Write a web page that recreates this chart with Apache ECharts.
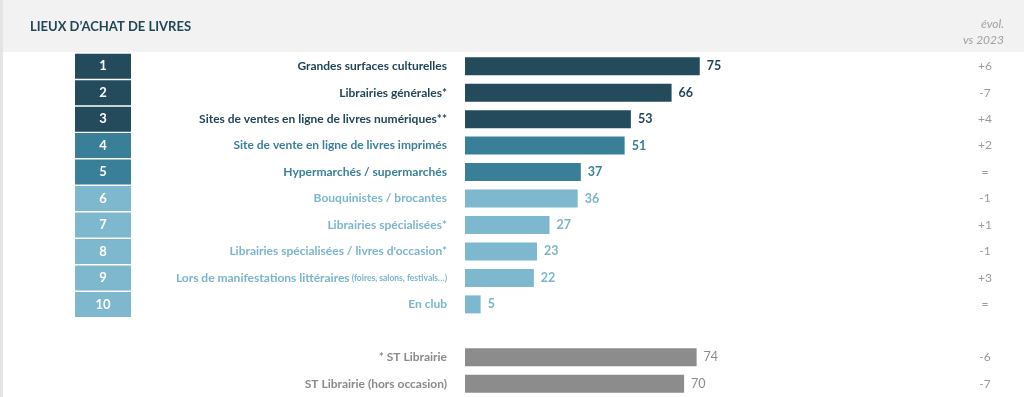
<!DOCTYPE html>
<html><head><meta charset="utf-8">
<script src="https://cdn.jsdelivr.net/npm/echarts@6/dist/echarts.min.js"></script>
<style>html,body{margin:0;padding:0;background:#fff}#c{width:1024px;height:397px}</style>
</head><body><div id="c"></div>
<script>
const categories = ['Grandes surfaces culturelles','Librairies générales*','Sites de ventes en ligne de livres numériques**','Site de vente en ligne de livres imprimés','Hypermarchés / supermarchés','Bouquinistes / brocantes','Librairies spécialisées*','Librairies spécialisées / livres d\'occasion*','Lors de manifestations littéraires','En club','','* ST Librairie','ST Librairie (hors occasion)'];
const notes = ['','','','','','','','','(foires, salons, festivals…)','','','',''];
const values = [75,66,53,51,37,36,27,23,22,5,null,74,70];
const groups = ['dark','dark','dark','mid','mid','light','light','light','light','light','','gray','gray'];
const ranks = ['1','2','3','4','5','6','7','8','9','10','','',''];
const evol = ['+6','-7','+4','+2','=','-1','+1','-1','+3','=','','-6','-7'];

const barColors = {dark:'#234b5b', mid:'#3a7f98', light:'#7db8ce', gray:'#8c8c8c'};
const textColors = {dark:'#1f4656', mid:'#3a7f98', light:'#7ab5cc', gray:'#8a8a8a'};
const FONT = 'Lato';

const chart = echarts.init(document.getElementById('c'));
const rich = {};
Object.keys(textColors).forEach(g => {
  rich[g] = {color:textColors[g], fontWeight:'bold', fontSize:12, fontFamily:FONT};
  rich[g+'s'] = {color:textColors[g], fontWeight:'bold', fontSize:8.5, fontFamily:FONT};
});
const gridTop = 53, gridH = 344;
chart.setOption({
  animation:false,
  graphic:[
    {type:'rect', shape:{x:0,y:0,width:1024,height:52}, style:{fill:'#f2f2f2'}, z:-10},
    {type:'rect', shape:{x:0,y:0,width:3,height:397}, style:{fill:'#e4e4e4'}, z:-9},
    {type:'text', x:1004, y:24, style:{text:'évol.', align:'right', verticalAlign:'middle', fill:'#a0a0a0', font:'italic 12px Lato'}},
    {type:'text', x:1004, y:40, style:{text:'vs 2023', align:'right', verticalAlign:'middle', fill:'#a0a0a0', font:'italic 12px Lato'}}
  ],
  title:[
    {text:'LIEUX D\u2019ACHAT DE LIVRES', left:30, top:20, padding:0, textStyle:{fontFamily:FONT, fontSize:13, fontWeight:'bold', color:'#1f4656'}}
  ],
  grid:[
    {left:465, top:gridTop, width:313, height:gridH},
    {left:75, top:gridTop, width:56, height:gridH}
  ],
  xAxis:[
    {gridIndex:0, type:'value', min:0, max:100, show:false},
    {gridIndex:1, type:'value', min:0, max:1, show:false}
  ],
  yAxis:[
    {gridIndex:0, type:'category', inverse:true, data:categories,
     axisLine:{show:false}, axisTick:{show:false},
     axisLabel:{margin:18, interval:0, formatter:(v,i)=>{
       const g = groups[i]; if(!g) return '';
       let s = '{'+g+'|'+v+'}';
       if(notes[i]) s += '{'+g+'s| '+notes[i]+'}';
       return s;
     }, rich:rich}},
    {gridIndex:0, type:'category', inverse:true, position:'right', data:categories,
     axisLine:{show:false}, axisTick:{show:false},
     axisLabel:{margin:207, interval:0, align:'center', color:'#9a9a9a', fontFamily:FONT, fontSize:12,
       formatter:(v,i)=>evol[i]}},
    {gridIndex:1, type:'category', inverse:true, data:categories, show:false}
  ],
  series:[
    {type:'bar', xAxisIndex:0, yAxisIndex:0, barWidth:18,
     data: values.map((v,i)=>({value: v==null?'-':v, itemStyle:{color:barColors[groups[i]]||'#fff'},
       label:{color:textColors[groups[i]]||'#000', fontWeight: groups[i]==='gray'?'normal':'bold'}})),
     label:{show:true, position:'right', distance:7, fontFamily:FONT, fontSize:12.5}},
    {type:'bar', xAxisIndex:1, yAxisIndex:2, barWidth:25,
     data: ranks.map((r,i)=>({value: r===''?'-':1, itemStyle:{color:barColors[groups[i]]||'#fff'}})),
     label:{show:true, position:'inside', color:'#fff', fontWeight:'bold', fontFamily:FONT, fontSize:13,
       formatter:p=>ranks[p.dataIndex]}}
  ]
});
</script></body></html>
